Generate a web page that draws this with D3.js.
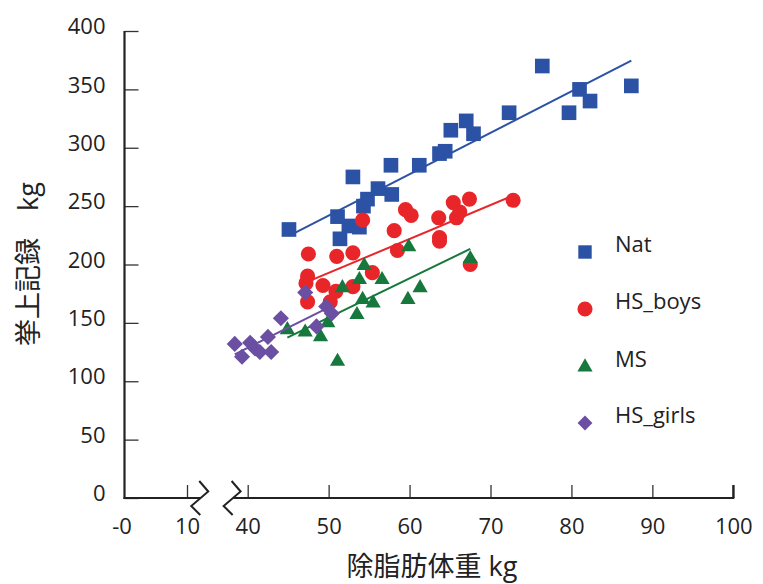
<!DOCTYPE html>
<html>
<head>
<meta charset="utf-8">
<script src="https://cdn.jsdelivr.net/npm/d3@7"></script>
<style>
  html, body { margin: 0; padding: 0; background: #fff; }
  svg text { font-family: "Open Sans", "Noto Sans CJK JP", sans-serif; fill: #222; }
</style>
</head>
<body>
<svg id="chart" width="763" height="584"></svg>
<script>
// Lean body mass (kg) vs. lift record (kg) by group
const seriesNames = ["Nat", "HS_boys", "MS", "HS_girls"];

const natX = [45.1, 51.1, 51.4, 52.5, 53.0, 53.8, 54.3, 54.8, 56.1, 57.7, 57.8, 61.2, 63.7, 64.4, 65.1, 67.0, 67.9, 72.3, 76.4, 79.7, 81.0, 82.3, 87.4];
const natY = [230, 241, 222, 233, 275, 232, 250, 256, 265, 285, 260, 285, 295, 297, 315, 323, 312, 330, 370, 330, 350, 340, 353];

const boysX = [47.2, 47.4, 47.4, 47.5, 49.3, 50.2, 50.9, 51.0, 53.0, 53.0, 54.2, 55.4, 58.1, 58.5, 59.5, 60.2, 63.6, 63.7, 63.7, 65.4, 65.8, 66.2, 67.4, 67.5, 72.8];
const boysY = [184, 190, 168, 209, 182, 168, 177, 207, 210, 181, 238, 193, 229, 212, 247, 242, 240, 223, 220, 253, 240, 245, 256, 200, 255];

const msX = [44.9, 47.1, 49.0, 49.9, 51.1, 51.7, 53.5, 53.8, 54.2, 54.4, 55.5, 56.6, 59.8, 59.9, 61.3, 67.5];
const msY = [144, 142, 138, 150, 117, 180, 157, 187, 170, 199, 167, 187, 170, 215, 180, 205];

const girlsX = [38.4, 39.3, 40.3, 40.9, 41.5, 42.5, 42.9, 44.1, 47.1, 48.5, 49.7, 50.4];
const girlsY = [132, 121, 133, 128, 125, 138, 125, 154, 176, 147, 164, 158];

const yTicks = [0, 50, 100, 150, 200, 250, 300, 350, 400];
const xTicksLow = [0, 10];
const xTicksHigh = [40, 50, 60, 70, 80, 90, 100];
const xLowLabels = ["-0", "10"];

const svg = d3.select("#chart");

// Broken x axis: a short 0–10 segment, then 40–100
const xLow = d3.scaleLinear().domain([0, 10]).range([124.5, 187]);
const xHigh = d3.scaleLinear().domain([40, 100]).range([247.7, 733.3]);
const y = d3.scaleLinear().domain([0, 400]).range([498, 31]);

const colors = { Nat: "#2b52a4", HS_boys: "#e8262a", MS: "#16783c", HS_girls: "#6a4fa3" };
const shapes = {
  Nat:      { type: d3.symbolSquare,   size: 215, rotate: 0 },
  HS_boys:  { type: d3.symbolCircle,   size: 180, rotate: 0 },
  MS:       { type: d3.symbolTriangle, size: 100, rotate: 0 },
  HS_girls: { type: d3.symbolSquare,   size: 130, rotate: 45 }
};

const tickFont = 22;

// ---- axes ----
const axisColor = "#222";
const breakLeft = xLow(12.2), breakRight = xHigh(38.2);
const y0 = y(0);

// y axis
const gy = svg.append("g").attr("transform", `translate(${xLow(0)},0)`)
  .call(d3.axisLeft(y).tickValues(yTicks).tickSize(-14).tickPadding(19).tickFormat(d3.format("d")));
gy.select(".domain").remove();
gy.selectAll(".tick line").attr("stroke", "#333").attr("stroke-width", 1.3);
gy.selectAll(".tick text").attr("font-size", tickFont).attr("dy", "0.12em");

// x axis, low segment
const gxl = svg.append("g").attr("transform", `translate(0,${y0})`)
  .call(d3.axisBottom(xLow).tickValues(xTicksLow).tickSize(-13).tickPadding(20).tickFormat((d, i) => xLowLabels[i]));
gxl.select(".domain").remove();
gxl.selectAll(".tick line").attr("stroke", "#333").attr("stroke-width", 1.3)
  .filter(d => d === 0).remove();
gxl.selectAll(".tick text").attr("font-size", tickFont)
  .filter(d => d === 0).attr("dx", -3);

// x axis, high segment
const gxh = svg.append("g").attr("transform", `translate(0,${y0})`)
  .call(d3.axisBottom(xHigh).tickValues(xTicksHigh).tickSize(-13).tickPadding(20).tickFormat(d3.format("d")));
gxh.select(".domain").remove();
gxh.selectAll(".tick line").attr("stroke", "#333").attr("stroke-width", 1.3);
gxh.selectAll(".tick text").attr("font-size", tickFont);

// axis lines
const axes = svg.append("g").attr("stroke", axisColor).attr("stroke-width", 2.2).attr("fill", "none");
axes.append("line").attr("x1", xLow(0)).attr("x2", xLow(0)).attr("y1", y(400)).attr("y2", y0 + 1);
axes.append("line").attr("x1", xLow(0) - 1).attr("x2", breakLeft).attr("y1", y0).attr("y2", y0);
axes.append("line").attr("x1", breakRight).attr("x2", xHigh(100) + 1).attr("y1", y0).attr("y2", y0);
axes.append("line").attr("x1", xHigh(100)).attr("x2", xHigh(100)).attr("y1", y0 - 13).attr("y2", y0);

// break marks (zigzags where the axis is cut)
const zig = d3.line();
[breakLeft, breakRight].forEach(bx => {
  axes.append("path").attr("stroke-width", 2)
    .attr("d", zig([[bx - 1.5, y0 - 17], [bx + 7.5, y0 - 6.5], [bx - 9.5, y0 + 8], [bx - 0.5, y0 + 17]]));
});

// ---- data ----
const groups = [
  { name: "Nat", xs: natX, ys: natY },
  { name: "HS_boys", xs: boysX, ys: boysY },
  { name: "MS", xs: msX, ys: msY },
  { name: "HS_girls", xs: girlsX, ys: girlsY }
];

function fit(xs, ys) {
  const n = xs.length, mx = d3.mean(xs), my = d3.mean(ys);
  let sxy = 0, sxx = 0;
  for (let i = 0; i < n; i++) { sxy += (xs[i] - mx) * (ys[i] - my); sxx += (xs[i] - mx) ** 2; }
  const b = sxy / sxx;
  return { b, a: my - b * mx };
}

const plot = svg.append("g");
groups.forEach(g => {
  const c = colors[g.name], s = shapes[g.name];
  const sym = d3.symbol().type(s.type).size(s.size);
  plot.append("g").selectAll("path").data(d3.zip(g.xs, g.ys)).join("path")
    .attr("d", sym)
    .attr("fill", c)
    .attr("transform", d => `translate(${xHigh(d[0])},${y(d[1])}) rotate(${s.rotate})`);
  const f = fit(g.xs, g.ys);
  const [lo, hi] = d3.extent(g.xs);
  plot.append("line")
    .attr("x1", xHigh(lo)).attr("y1", y(f.a + f.b * lo))
    .attr("x2", xHigh(hi)).attr("y2", y(f.a + f.b * hi))
    .attr("stroke", c).attr("stroke-width", 2);
});

// ---- legend ----
const legendRows = [252, 309, 367, 423];
const legend = svg.append("g");
seriesNames.forEach((name, i) => {
  const s = shapes[name];
  const sz = name === "Nat" ? 180 : name === "HS_girls" ? 110 : s.size;
  legend.append("path")
    .attr("d", d3.symbol().type(s.type).size(sz))
    .attr("fill", colors[name])
    .attr("transform", `translate(585,${legendRows[i]}) rotate(${s.rotate})`);
  legend.append("text")
    .attr("x", 615).attr("y", legendRows[i] - 8).attr("dy", "0.35em")
    .attr("font-size", tickFont)
    .text(name);
});

// ---- axis titles ----
svg.append("text")
  .attr("x", 432).attr("y", 567).attr("dy", "0.35em").attr("text-anchor", "middle")
  .attr("font-size", 27)
  .text("除脂肪体重 kg");

svg.append("text")
  .attr("transform", "translate(29,264) rotate(-90)")
  .attr("dy", "0.35em").attr("text-anchor", "middle")
  .attr("font-size", 27)
  .text("挙上記録　kg");
</script>
</body>
</html>
